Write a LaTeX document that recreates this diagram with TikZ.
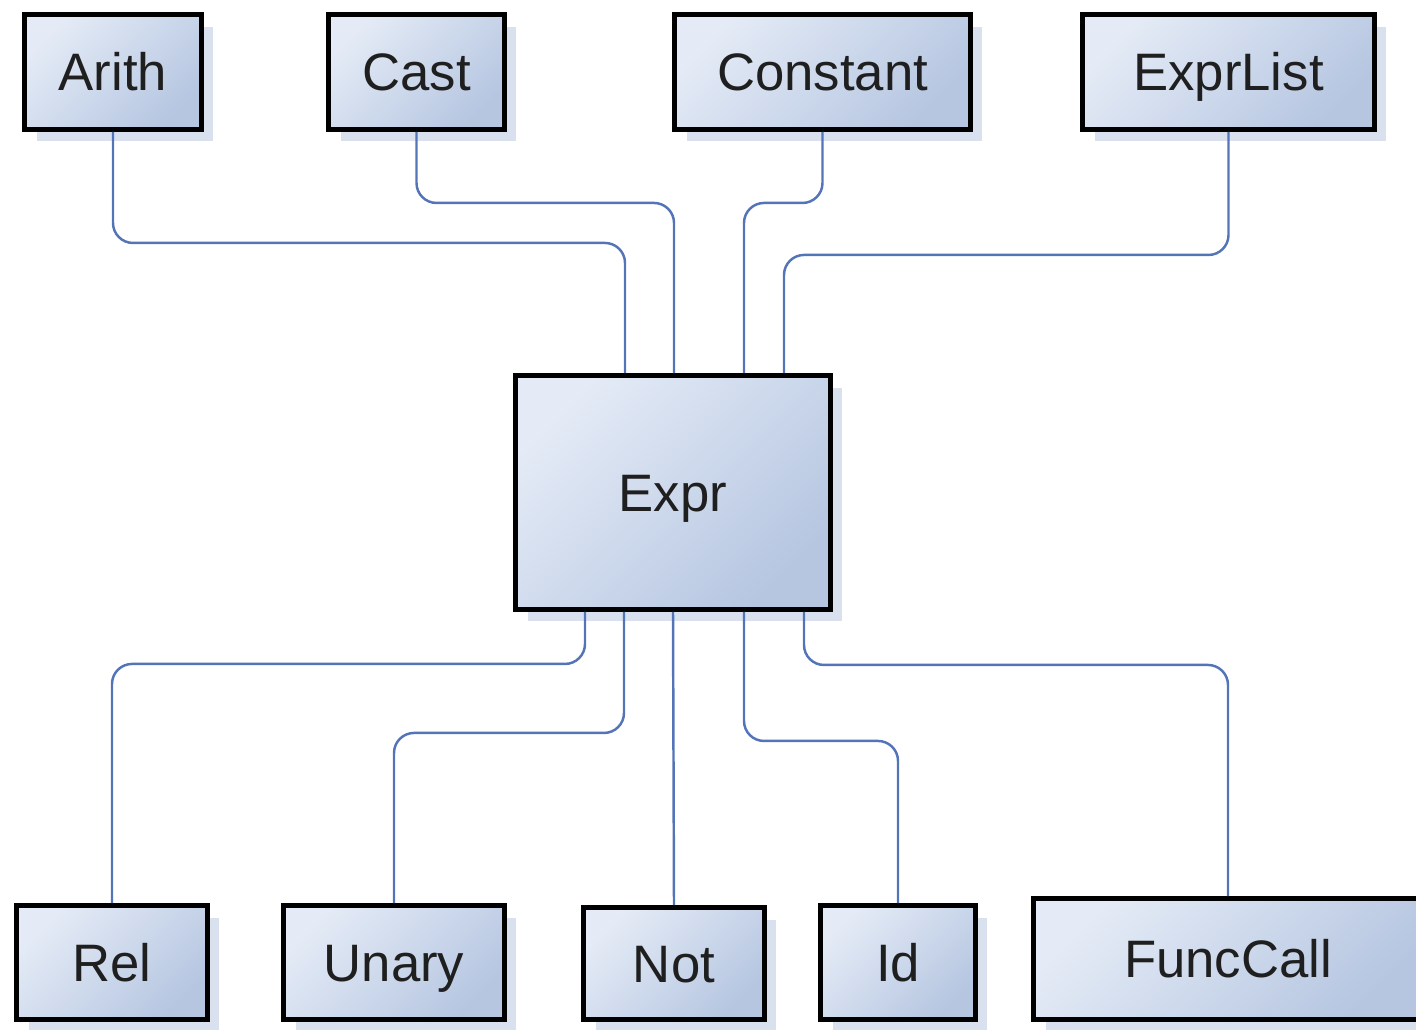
\documentclass[tikz,border=0pt]{standalone}
\usepackage{fontspec}
\setmainfont{Liberation Sans}
\usetikzlibrary{calc,shadows}
\definecolor{boxlight}{RGB}{228,235,246}
\definecolor{boxdark}{RGB}{182,198,225}
\definecolor{shadowblue}{RGB}{218,225,238}
\definecolor{linkblue}{RGB}{84,116,184}
\tikzset{
	cls/.style={draw=black, line width=2.8pt, top color=boxlight, bottom color=boxdark, shading angle=45,
		drop shadow={shadow xshift=0.24cm, shadow yshift=-0.24cm, fill=shadowblue, opacity=1},
		font=\fontsize{30}{36}\selectfont, text=black!88, inner sep=0pt,
		text height=21.5pt, text depth=0pt},
	link/.style={draw=linkblue, line width=1.4pt, rounded corners=0.4cm}
}

\begin{document}
\begin{tikzpicture}[x=0.02cm, y=-0.02cm]
			%%%%% START %%%%%
			
			\useasboundingbox (0, 0) rectangle (1416, 1029);
			
			\node[cls, minimum width=3.54cm, minimum height=2.30cm] (arith) at (113, 72) {Arith};
			\node[cls, minimum width=3.52cm, minimum height=2.30cm] (cast) at (416.5, 72) {Cast};
			\node[cls, minimum width=5.92cm, minimum height=2.30cm] (constant) at (822.5, 72) {Constant};
			\node[cls, minimum width=5.84cm, minimum height=2.30cm] (exprlist) at (1228.5, 72) {ExprList};
			
			\node[cls, minimum width=6.30cm, minimum height=4.68cm] (expr) at (673, 492.5) {Expr};
			
			\node[cls, minimum width=3.82cm, minimum height=2.28cm] (rel) at (112, 962.5) {Rel};
			\node[cls, minimum width=4.42cm, minimum height=2.28cm] (unary) at (394, 962.5) {Unary};
			\node[cls, minimum width=3.62cm, minimum height=2.24cm] (not) at (674, 963.5) {Not};
			\node[cls, minimum width=3.10cm, minimum height=2.28cm] (id) at (898, 962.5) {Id};
			\node[cls, minimum width=7.78cm, minimum height=2.42cm] (funccall) at (1228, 959) {FuncCall};
			
			% upper links
			\draw[link] (arith.south) -- ++(0, 111) -| ($(expr.north)+(-48, 0)$);
			\draw[link] (cast.south) -- ++(0, 71) -| ($(expr.north)+(1, 0)$);
			\draw[link] (constant.south) -- ++(0, 71) -| ($(expr.north)+(71, 0)$);
			\draw[link] (exprlist.south) -- ++(0, 123) -| ($(expr.north)+(111, 0)$);
			
			% lower links
			\draw[link] ($(expr.south)+(-88, 0)$) -- ++(0, 52) -| (rel.north);
			\draw[link] ($(expr.south)+(-49, 0)$) -- ++(0, 121) -| (unary.north);
			\draw[link] (expr.south) -- (not.north);
			\draw[link] ($(expr.south)+(71, 0)$) -- ++(0, 129) -| (id.north);
			\draw[link] ($(expr.south)+(131, 0)$) -- ++(0, 53) -| (funccall.north);
			
			%%%%% END %%%%%
		\end{tikzpicture}
\end{document}
